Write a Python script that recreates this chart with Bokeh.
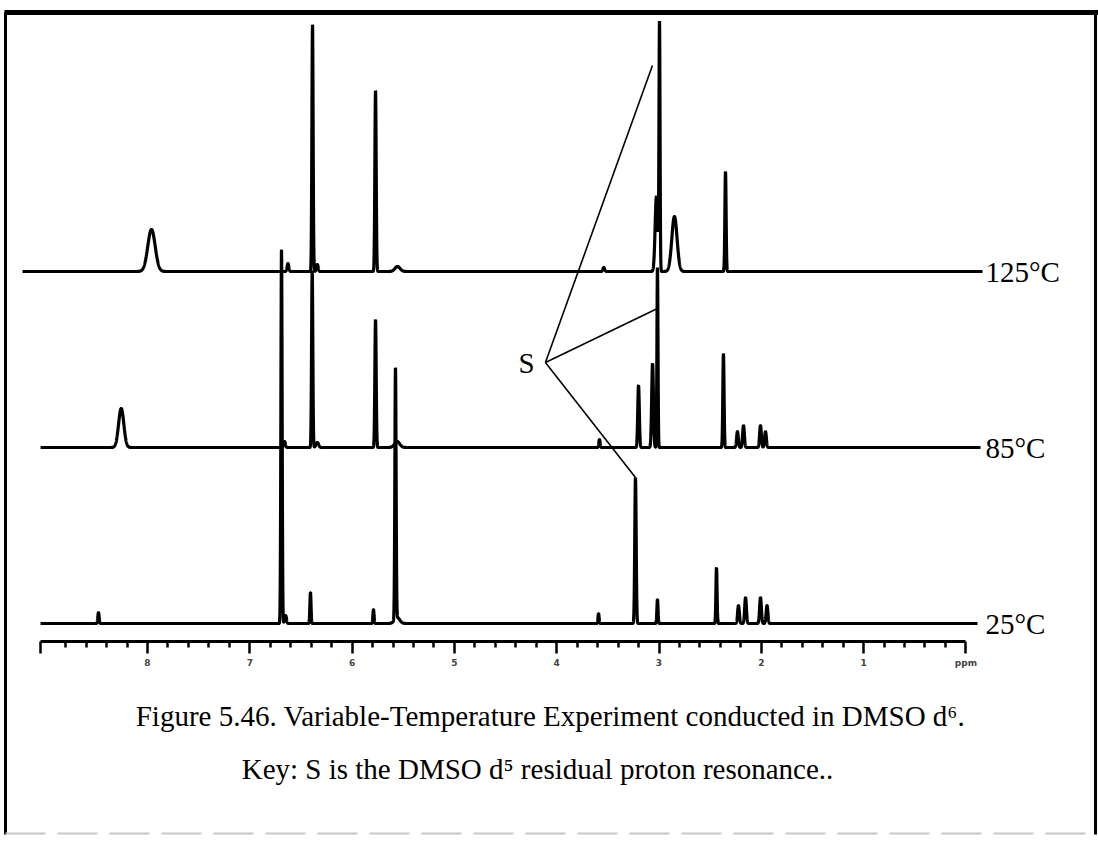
import numpy as np
from bokeh.plotting import figure
from bokeh.models import Range1d, FixedTicker
from bokeh.embed import file_html
from bokeh.resources import INLINE
from bokeh.core.properties import value

# ---------------- data: peak tables (ppm, height, FWHM ppm) ----------------
temps = ["25°C", "85°C", "125°C"]

t25_ppm    = [8.479, 6.690, 6.650, 6.407, 5.791, 5.576, 5.560, 3.591, 3.230, 3.015, 2.438, 2.223, 2.154, 2.008, 1.944]
t25_height = [11,    374,   8,     31,    14,    251,   6,     10,    146,   24,    56,    18,    26,    26,    18]
t25_width  = [0.015, 0.014, 0.02,  0.013, 0.013, 0.014, 0.06,  0.013, 0.016, 0.013, 0.013, 0.02,  0.02,  0.02,  0.02]

t85_ppm    = [8.257, 6.660, 6.390, 6.340, 5.771, 5.560, 3.582, 3.200, 3.063, 3.015, 2.370, 2.233, 2.174, 2.008, 1.959]
t85_height = [39,    6,     177,   5,     128,   6,     8,     62,    84,    180,   94,    16,    22,    22,    16]
t85_width  = [0.06,  0.02,  0.014, 0.03,  0.015, 0.06,  0.015, 0.018, 0.02,  0.012, 0.014, 0.02,  0.02,  0.02,  0.02]

t125_ppm    = [7.961, 6.627, 6.387, 6.340, 5.771, 5.556, 3.540, 3.025, 2.995, 2.849, 2.350]
t125_height = [42,    8,     247,   7,     181,   5,     4,     75,    246,   55,    100]
t125_width  = [0.085, 0.02,  0.014, 0.02,  0.015, 0.06,  0.02,  0.03,  0.012, 0.06,  0.014]

# S (solvent) annotation: label point and the peaks it points to (ppm, intensity)
s_label = (4.11, 261)
s_targets_ppm = [3.064, 3.015, 3.230]
s_targets_y   = [558, 315, 146]

major_ticks = [0, 1, 2, 3, 4, 5, 6, 7, 8]
tick_labels = {0: "ppm", 1: "1", 2: "2", 3: "3", 4: "4", 5: "5", 6: "6", 7: "7", 8: "8"}

caption1 = "Figure 5.46. Variable-Temperature Experiment conducted in DMSO d\u2076."
caption2 = "Key: S is the DMSO d\u2075 residual proton resonance.."

# ---------------- layout helpers (page pixel -> data) ----------------
W, H = 1098, 854
def xd(px):
    return 8 - (px - 147) / 102.3
def yd(py):
    return 623 - py

offsets = [0, 176, 352]
starts = [xd(40), xd(40), xd(22)]
ends = [xd(977), xd(980), xd(982)]

def trace(ppm, height, width, x0, x1):
    x = np.arange(x1, x0, 0.0008)
    y = np.zeros_like(x)
    for c, h, w in zip(ppm, height, width):
        y += h * np.exp(-4 * np.log(2) * (x - c) ** 2 / w ** 2)
    return x, y

p = figure(width=W, height=H, output_backend="svg", toolbar_location=None,
           x_range=Range1d(xd(0), xd(W)), y_range=Range1d(yd(H), yd(0)),
           y_axis_location=None, min_border=0)
p.grid.visible = False
p.outline_line_color = None
p.background_fill_color = "white"
p.border_fill_color = "white"

tables = [(t25_ppm, t25_height, t25_width), (t85_ppm, t85_height, t85_width),
          (t125_ppm, t125_height, t125_width)]
for (pp, hh, ww), off, s, e, lab in zip(tables, offsets, starts, ends, temps):
    x, y = trace(pp, hh, ww, s, e)
    p.line(x, y + off, line_color="black", line_width=3.2)
    p.text(x=[xd(985)], y=[off], text=[lab], text_font=value("Liberation Serif"),
           text_font_size="29px", text_baseline="middle", text_align="left", text_color="black")

# S annotation
p.segment(x0=[s_label[0]] * 3, y0=[s_label[1]] * 3, x1=s_targets_ppm, y1=s_targets_y,
          line_color="black", line_width=1.6)
p.text(x=[xd(526)], y=[s_label[1]], text=["S"], text_font=value("Liberation Serif"),
       text_font_size="29px", text_baseline="middle", text_align="center")

# captions
p.text(x=[xd(550), xd(537)], y=[yd(715), yd(768)], text=[caption1, caption2],
       text_font=value("Liberation Serif"), text_font_size="29px",
       text_baseline="middle", text_align="center")

# frame border (scan edge)
p.segment(x0=[xd(4)], y0=[yd(12)], x1=[xd(W)], y1=[yd(12)], line_color="black", line_width=5)
p.segment(x0=[xd(5), xd(1095)], y0=[yd(12)] * 2, x1=[xd(5), xd(1095)], y1=[yd(834)] * 2,
          line_color="black", line_width=3)
p.segment(x0=[xd(5)], y0=[yd(833)], x1=[xd(1095)], y1=[yd(833)], line_color="#c8c8c8",
          line_width=2, line_dash="40 12")

# ppm axis
left_end = xd(40)
overrides = dict(tick_labels)
overrides[left_end] = ""
ax = p.xaxis[0]
ax.fixed_location = yd(641)
ax.bounds = (0, left_end)
ax.ticker = FixedTicker(ticks=major_ticks + [left_end],
                        minor_ticks=[round(0.2 * i, 1) for i in range(1, 46) if (i % 5) != 0])
ax.major_label_overrides = overrides
ax.axis_line_width = 3
ax.major_tick_line_width = 2.5
ax.minor_tick_line_width = 2.5
ax.major_tick_out = 12
ax.major_tick_in = 0
ax.minor_tick_out = 6
ax.minor_tick_in = 0
ax.major_label_text_font = "DejaVu Sans"
ax.major_label_text_font_style = "bold"
ax.major_label_text_font_size = "9px"
ax.major_label_standoff = 4

open("out.html", "w").write(file_html(p, INLINE))
